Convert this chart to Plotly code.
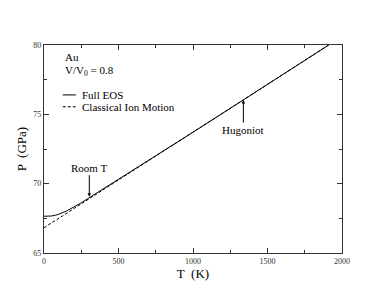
import plotly.graph_objects as go

# Data
T_full = [0, 25, 50, 75, 100, 150, 200, 250, 300, 400, 500, 750, 1000, 1250, 1500, 1750, 2000]
P_full = [67.65, 67.65, 67.67, 67.72, 67.80, 68.02, 68.30, 68.62, 68.96, 69.63, 70.30, 72.00, 73.71, 75.43, 77.16, 78.89, 80.62]

T_class = [0, 250, 500, 750, 1000, 1250, 1500, 1750, 2000]
P_class = [66.82, 68.55, 70.27, 71.98, 73.70, 75.42, 77.15, 78.88, 80.61]

room_T = (304, 69.06)
hugoniot = (1338, 76.03)

x_ticks = [0, 500, 1000, 1500, 2000]
y_ticks = [65, 70, 75, 80]

FONT = "Liberation Serif"

fig = go.Figure()
fig.add_trace(go.Scatter(x=T_full, y=P_full, mode="lines", name="Full EOS",
                         line=dict(color="black", width=1), showlegend=False))
fig.add_trace(go.Scatter(x=T_class, y=P_class, mode="lines", name="Classical Ion Motion",
                         line=dict(color="black", width=1, dash="3px,2px"), showlegend=False))

axis_common = dict(
    showline=True, linecolor="#333", linewidth=1.2, mirror="ticks",
    ticks="inside", ticklen=5, tickcolor="#333", tickwidth=1,
    showgrid=False, zeroline=False, automargin=False,
    tickfont=dict(family=FONT, size=8, color="#333"),
)

fig.update_xaxes(range=[0, 2000], tickvals=x_ticks, ticktext=[str(v) for v in x_ticks],
                 minor=dict(ticks="inside", ticklen=3, dtick=250, tickcolor="#333"),
                 title=dict(text="T  (K)", font=dict(family=FONT, size=13, color="black"), standoff=0),
                 **axis_common)
fig.update_yaxes(range=[65, 80], tickvals=y_ticks, ticktext=[str(v) for v in y_ticks],
                 minor=dict(ticks="inside", ticklen=3, dtick=2.5, tickcolor="#333"),
                 title=dict(text="P  (GPa)", font=dict(family=FONT, size=13, color="black"), standoff=3),
                 **axis_common)

# Labels
fig.add_annotation(xref="paper", yref="paper", x=0.063, y=0.94, text="Au", showarrow=False,
                   xanchor="left", yanchor="middle", font=dict(family=FONT, size=11, color="black"))
fig.add_annotation(xref="paper", yref="paper", x=0.063, y=0.873, text="V/V<sub>0</sub> = 0.8",
                   showarrow=False, xanchor="left", yanchor="middle",
                   font=dict(family=FONT, size=11, color="black"))

# Legend (manual)
leg_y = [0.76, 0.703]
leg_txt = ["Full EOS", "Classical Ion Motion"]
leg_dash = ["solid", "dot"]
for yy, tx, ds in zip(leg_y, leg_txt, leg_dash):
    fig.add_shape(type="line", xref="paper", yref="paper", x0=0.063, x1=0.107, y0=yy, y1=yy,
                  line=dict(color="black", width=1, dash=("3px,2px" if ds == "dot" else "solid")))
    fig.add_annotation(xref="paper", yref="paper", x=0.12, y=yy, text=tx, showarrow=False,
                       xanchor="left", yanchor="middle", font=dict(family=FONT, size=11, color="black"))

fig.add_annotation(x=room_T[0], y=room_T[1], text="Room T", showarrow=True, ax=0, ay=-29,
                   arrowhead=2, arrowsize=0.7, arrowwidth=1, arrowcolor="black", standoff=0,
                   font=dict(family=FONT, size=11, color="black"))
fig.add_annotation(x=hugoniot[0], y=hugoniot[1], text="Hugoniot", showarrow=True, ax=0, ay=30,
                   arrowhead=2, arrowsize=0.7, arrowwidth=1, arrowcolor="black", standoff=0,
                   font=dict(family=FONT, size=11, color="black"))

# The page body has an 8px default margin, so the figure is made 8px smaller on the top/left.
fig.update_layout(width=377, height=290, margin=dict(l=36, r=43, t=37, b=45),
                  paper_bgcolor="white", plot_bgcolor="white", showlegend=False)

fig.write_html("out.html")
